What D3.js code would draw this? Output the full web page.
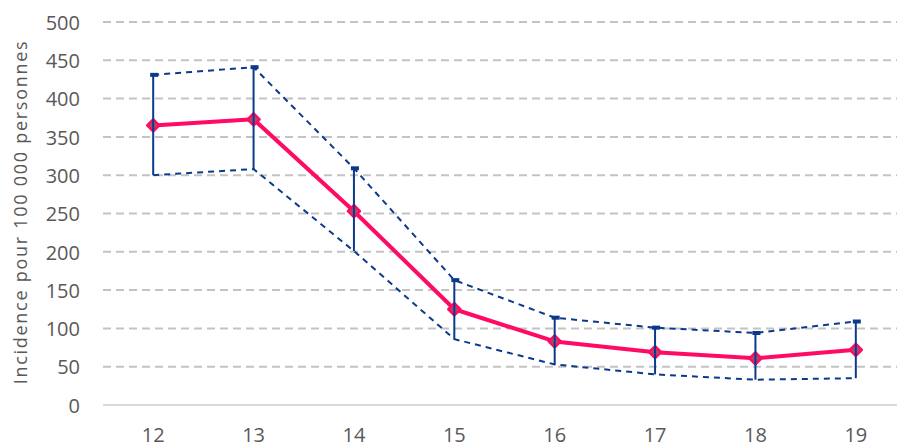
<!DOCTYPE html>
<html><head><meta charset="utf-8">
<script src="https://cdn.jsdelivr.net/npm/d3@7"></script>
<style>html,body{margin:0;padding:0;background:#fff;overflow:hidden}</style>
</head><body><svg id="c" width="897" height="443"></svg>
<script>
const categories = ["12","13","14","15","16","17","18","19"];
const incidence = [365, 373, 253, 125, 83, 69, 61, 72];
const upper = [431, 441, 309, 163, 114, 101, 94, 109];
const lower = [300, 308, 201, 86, 53, 40, 33, 35];
const yTicks = [0,50,100,150,200,250,300,350,400,450,500];
const yLabel = "Incidence pour 100 000 personnes";

(function(){
const svg = d3.select("#c");
const mLeft = 103, mRight = 906, mTop = 22, mBottom = 405;
const x = d3.scaleBand().domain(categories).range([mLeft, mRight]);
const y = d3.scaleLinear().domain([0, 500]).range([mBottom, mTop]);
const cx = d => x(d) + x.bandwidth()/2;
const font = "'Open Sans', sans-serif";

svg.append("g").selectAll("line").data(yTicks.filter(t => t > 0)).join("line")
  .attr("x1", mLeft).attr("x2", mRight)
  .attr("y1", d => y(d)).attr("y2", d => y(d))
  .attr("stroke", "#c3c3c3").attr("stroke-width", 2).attr("stroke-dasharray", "8,5");
svg.append("line").attr("x1", mLeft).attr("x2", mRight).attr("y1", y(0)).attr("y2", y(0))
  .attr("stroke", "#d9d9d9").attr("stroke-width", 2);

const yAxis = d3.axisLeft(y).tickValues(yTicks).tickSize(0).tickPadding(0);
const ga = svg.append("g").attr("transform", "translate(80,0)").call(yAxis);
ga.select(".domain").remove();
ga.selectAll("text").attr("font-family", font).attr("font-size", 20).attr("fill", "#595959").attr("dy", "0.36em");

const xAxis = d3.axisBottom(x).tickSize(0).tickPadding(0);
const gx = svg.append("g").attr("transform", "translate(0,442)").call(xAxis);
gx.select(".domain").remove();
gx.selectAll("text").attr("font-family", font).attr("font-size", 20).attr("fill", "#595959").attr("dy", "0");

const yl = svg.append("text").attr("transform", `translate(27,${(40+384)/2}) rotate(-90)`)
  .attr("text-anchor", "middle").attr("font-family", font).attr("font-size", 18)
  .attr("fill", "#595959").text(yLabel);
const len = yl.node().getComputedTextLength();
const ls = (343 - len) / (yLabel.length - 1);
yl.attr("letter-spacing", ls + "px");

const navy = "#0b3a8c";
const lineGen = arr => d3.line().x((d,i) => cx(categories[i])).y(d => y(d))(arr);
svg.append("path").attr("d", lineGen(upper)).attr("fill", "none").attr("stroke", navy)
  .attr("stroke-width", 2).attr("stroke-dasharray", "6,5");
svg.append("path").attr("d", lineGen(lower)).attr("fill", "none").attr("stroke", navy)
  .attr("stroke-width", 2).attr("stroke-dasharray", "6,5");

svg.append("path").attr("d", lineGen(incidence)).attr("fill", "none").attr("stroke", "#ff0a64")
  .attr("stroke-width", 4).attr("stroke-linejoin", "round");
svg.append("g").selectAll("path").data(incidence).join("path")
  .attr("transform", (d,i) => `translate(${cx(categories[i])},${y(d)})`)
  .attr("d", "M0,-6L6,0L0,6L-6,0Z")
  .attr("fill", "#a5506a").attr("stroke", "#ff0a64").attr("stroke-width", 2.5).attr("stroke-linejoin", "round");

const eb = svg.append("g");
categories.forEach((c, i) => {
  eb.append("line").attr("x1", cx(c)).attr("x2", cx(c)).attr("y1", y(lower[i])).attr("y2", y(upper[i]))
    .attr("stroke", navy).attr("stroke-width", 2);
  eb.append("rect").attr("x", cx(c) - 3).attr("y", y(upper[i]) - 2).attr("width", 8).attr("height", 4)
    .attr("fill", navy);
});
})();
</script></body></html>
